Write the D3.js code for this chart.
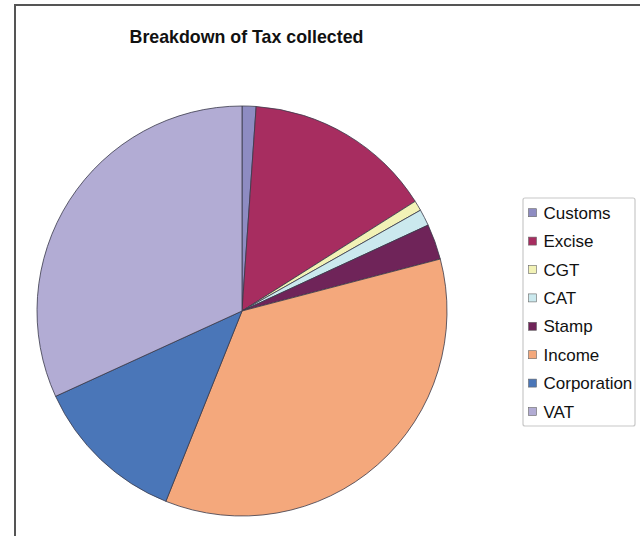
<!DOCTYPE html>
<html>
<head>
<meta charset="utf-8">
<script src="https://cdn.jsdelivr.net/npm/d3@7"></script>
<style>
  html, body { margin: 0; padding: 0; background: #fff; }
  svg { display: block; }
</style>
</head>
<body>
<svg id="chart" width="640" height="536"></svg>
<script>
// Share of tax collected, by head (percent of total)
const categories = ["Customs", "Excise", "CGT", "CAT", "Stamp", "Income", "Corporation", "VAT"];
const shares = [1.1, 14.9, 0.8, 1.3, 2.8, 35.1, 12.1, 31.8];
const colors = ["#8e8cc2", "#a72d60", "#f2f2b6", "#cbe9ee", "#6f2459", "#f4a87c", "#4a76b8", "#b2acd4"];
const titleText = "Breakdown of Tax collected";

const svg = d3.select("#chart");
const W = 640, H = 536;

// outer frame of the chart area
svg.append("rect")
  .attr("x", 15).attr("y", 5)
  .attr("width", W + 20).attr("height", H + 20)
  .attr("fill", "#fff")
  .attr("stroke", "#555").attr("stroke-width", 2);

svg.append("text")
  .attr("x", 246.5).attr("y", 42.5)
  .attr("text-anchor", "middle")
  .attr("font-family", "Liberation Sans, Arial, sans-serif")
  .attr("font-weight", "bold")
  .attr("font-size", 17.8)
  .attr("fill", "#111")
  .text(titleText);

const cx = 242, cy = 311, r = 205;
const color = d3.scaleOrdinal().domain(categories).range(colors);

const pie = d3.pie().sort(null).value(d => d.value);
const arc = d3.arc().innerRadius(0).outerRadius(r);
const data = categories.map((c, i) => ({ name: c, value: shares[i] }));

svg.append("g")
  .attr("transform", `translate(${cx},${cy})`)
  .selectAll("path")
  .data(pie(data))
  .join("path")
  .attr("d", arc)
  .attr("fill", d => color(d.data.name))
  .attr("stroke", "#3a3a4a")
  .attr("stroke-width", 0.8)
  .attr("stroke-linejoin", "round");

// legend
const lg = svg.append("g");
lg.append("rect")
  .attr("x", 523).attr("y", 198)
  .attr("width", 112).attr("height", 228)
  .attr("rx", 2)
  .attr("fill", "#fff")
  .attr("stroke", "#c8c8c8").attr("stroke-width", 1.2);

const y0 = 212.7, step = 28.4;
const items = lg.selectAll("g.item")
  .data(categories)
  .join("g")
  .attr("class", "item")
  .attr("transform", (d, i) => `translate(0,${y0 + i * step})`);

items.append("rect")
  .attr("x", 528.5).attr("y", -4)
  .attr("width", 8).attr("height", 8)
  .attr("fill", d => color(d))
  .attr("stroke", "#666").attr("stroke-width", 0.6);

items.append("text")
  .attr("x", 543.5).attr("y", 6.1)
  .attr("font-family", "Liberation Sans, Arial, sans-serif")
  .attr("font-size", 17)
  .attr("fill", "#111")
  .text(d => d);
</script>
</body>
</html>
